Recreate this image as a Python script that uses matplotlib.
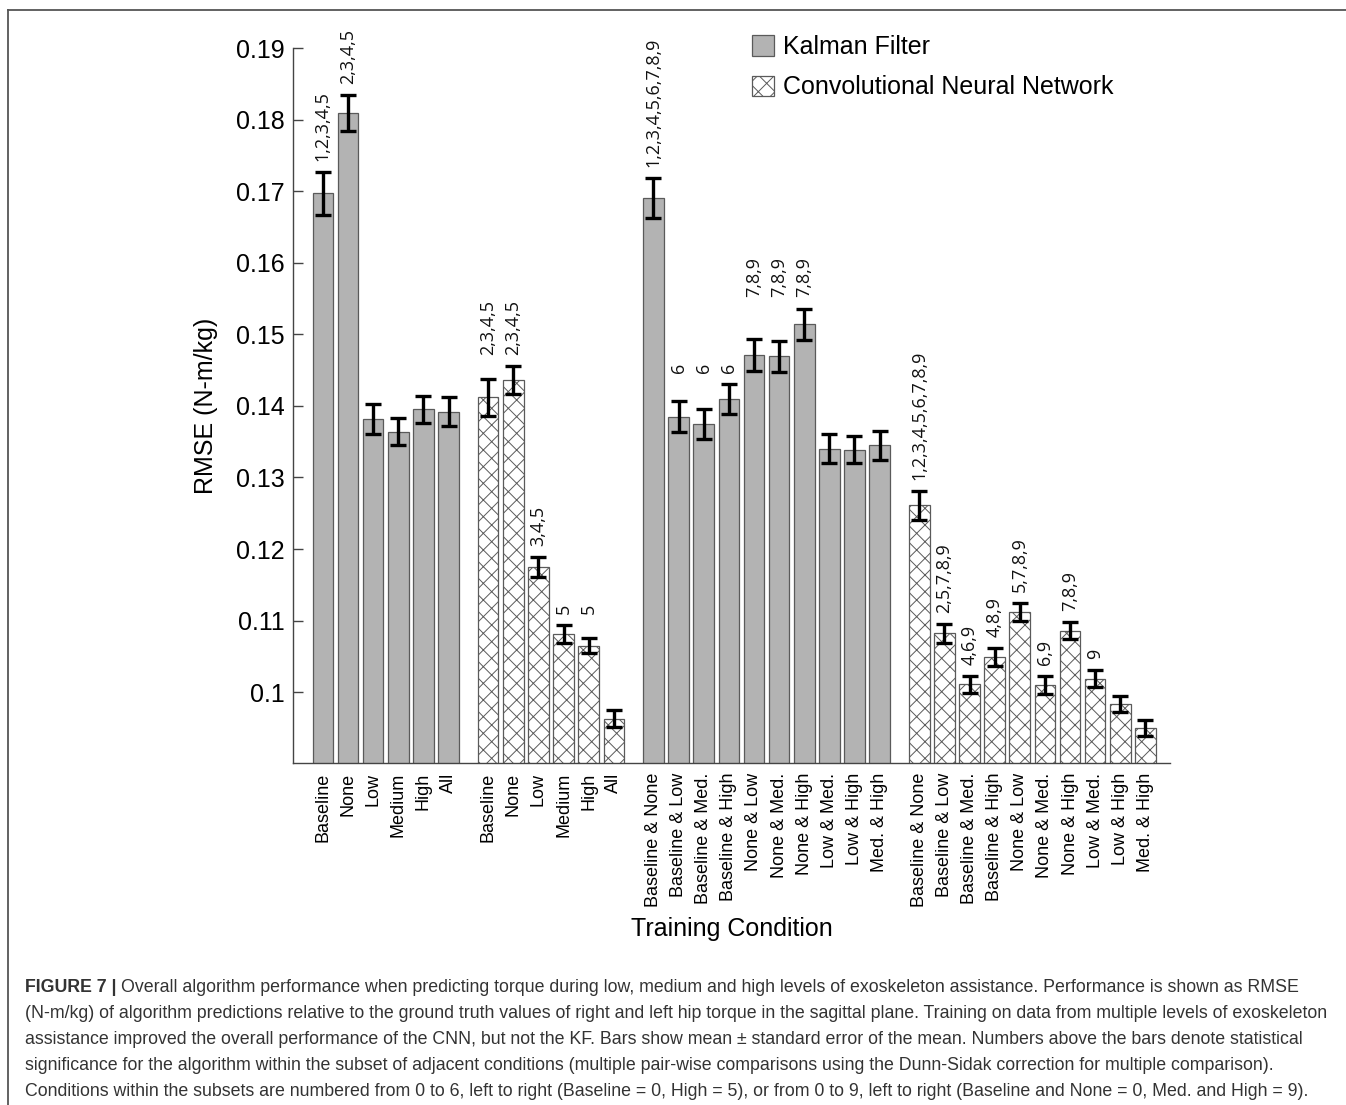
import numpy as np
import matplotlib.pyplot as plt
from matplotlib.patches import Patch
from matplotlib.lines import Line2D

# RMSE (N-m/kg), mean and standard error per training condition
kf_single = ['Baseline', 'None', 'Low', 'Medium', 'High', 'All']
kf_single_mean = [0.1697, 0.1809, 0.1382, 0.1364, 0.1395, 0.1392]
kf_single_se = [0.0030, 0.0025, 0.0021, 0.0019, 0.0019, 0.0020]
kf_single_sig = ['1,2,3,4,5', '2,3,4,5', '', '', '', '']

cnn_single = ['Baseline', 'None', 'Low', 'Medium', 'High', 'All']
cnn_single_mean = [0.1412, 0.1436, 0.1175, 0.1081, 0.1065, 0.0963]
cnn_single_se = [0.0026, 0.0020, 0.0014, 0.0013, 0.0011, 0.0012]
cnn_single_sig = ['2,3,4,5', '2,3,4,5', '3,4,5', '5', '5', '']

pairs = ['Baseline & None', 'Baseline & Low', 'Baseline & Med.', 'Baseline & High',
         'None & Low', 'None & Med.', 'None & High', 'Low & Med.', 'Low & High',
         'Med. & High']
kf_pair_mean = [0.1690, 0.1385, 0.1375, 0.1409, 0.1471, 0.1469, 0.1514,
                0.1340, 0.1339, 0.1345]
kf_pair_se = [0.0028, 0.0022, 0.0021, 0.0021, 0.0022, 0.0022, 0.0022,
              0.0020, 0.0019, 0.0020]
kf_pair_sig = ['1,2,3,4,5,6,7,8,9', '6', '6', '6', '7,8,9', '7,8,9', '7,8,9',
               '', '', '']

cnn_pair_mean = [0.1261, 0.1082, 0.1011, 0.1049, 0.1112, 0.1010, 0.1086,
                 0.1019, 0.0983, 0.0950]
cnn_pair_se = [0.0020, 0.0013, 0.0012, 0.0013, 0.0013, 0.0012, 0.0012,
               0.0012, 0.0011, 0.0011]
cnn_pair_sig = ['1,2,3,4,5,6,7,8,9', '2,5,7,8,9', '4,6,9', '4,8,9', '5,7,8,9',
                '6,9', '7,8,9', '9', '', '']

groups = [
    (kf_single, kf_single_mean, kf_single_se, kf_single_sig, 'kf'),
    (cnn_single, cnn_single_mean, cnn_single_se, cnn_single_sig, 'cnn'),
    (pairs, kf_pair_mean, kf_pair_se, kf_pair_sig, 'kf'),
    (pairs, cnn_pair_mean, cnn_pair_se, cnn_pair_sig, 'cnn'),
]

GRAY = '#b3b3b3'
EDGE = '#5a5a5a'
plt.rcParams['hatch.linewidth'] = 0.7

fig = plt.figure(figsize=(13.46, 11.05), dpi=100)
ax = fig.add_axes([293 / 1346, 1 - 763 / 1105, 877 / 1346, 715 / 1105])

gap = 1.58
start = 0.0
tick_pos, tick_lab = [], []
for labels, mean, se, sig, kind in groups:
    x = start + np.arange(len(labels))
    if kind == 'kf':
        ax.bar(x, mean, width=0.82, color=GRAY, edgecolor=EDGE, linewidth=0.9, zorder=2)
    else:
        ax.bar(x, mean, width=0.82, color='white', edgecolor=EDGE, hatch='xx',
               linewidth=0.9, zorder=2)
    ax.errorbar(x, mean, yerr=se, fmt='none', ecolor='black', elinewidth=2.4,
                capsize=5.5, capthick=2.4, zorder=3)

    # consecutive bars with the same significance text share one height
    tops = np.array(mean) + np.array(se)
    i = 0
    while i < len(sig):
        j = i
        while j + 1 < len(sig) and sig[j + 1] == sig[i]:
            j += 1
        if sig[i]:
            y = tops[i:j + 1].max()
            for k in range(i, j + 1):
                ax.annotate(sig[k], (x[k], y), xytext=(0, 8), textcoords='offset points',
                            rotation=90, ha='center', va='bottom', fontsize=13,
                            family=['Open Sans', 'DejaVu Sans'], color='#111111')
        i = j + 1

    tick_pos += list(x)
    tick_lab += labels
    start = x[-1] + gap

ax.set_xlim(-1.19, 33.72)
ax.set_ylim(0.0901, 0.19)
ax.set_yticks(np.arange(0.10, 0.1901, 0.01))
ax.set_yticklabels(['%g' % round(v, 2) for v in np.arange(0.10, 0.1901, 0.01)])
ax.set_xticks(tick_pos)
ax.set_xticklabels(tick_lab, rotation=90, fontsize=13, family='Liberation Sans')
ax.tick_params(axis='x', length=0, pad=7)
ax.tick_params(axis='y', direction='in', length=7, width=1, color='#444444',
               labelsize=18, pad=6)
for t in ax.get_yticklabels():
    t.set_family('Liberation Sans')

for s in ['top', 'right']:
    ax.spines[s].set_visible(False)
for s in ['left', 'bottom']:
    ax.spines[s].set_color('#444444')
    ax.spines[s].set_linewidth(1.0)

ax.set_ylabel('RMSE (N-m/kg)', fontsize=18, family='Liberation Sans', labelpad=13)
ax.set_xlabel('Training Condition', fontsize=18, family='Liberation Sans', labelpad=7)

handles = [Patch(facecolor=GRAY, edgecolor=EDGE, linewidth=0.9),
           Patch(facecolor='white', edgecolor=EDGE, hatch='xx', linewidth=0.9)]
fig.legend(handles, ['Kalman Filter', 'Convolutional Neural Network'],
           loc='upper left', bbox_to_anchor=(752 / 1346, 1 - 35 / 1105),
           frameon=False, prop={'family': 'Liberation Sans', 'size': 18},
           handlelength=0.88, handleheight=0.88, handletextpad=0.35,
           labelspacing=0.66, borderpad=0, borderaxespad=0)

# figure frame (top and left rules)
fig.add_artist(Line2D([8 / 1346, 1], [1 - 10 / 1105, 1 - 10 / 1105],
                      transform=fig.transFigure, color='#555555', linewidth=1.3))
fig.add_artist(Line2D([8 / 1346, 8 / 1346], [0, 1 - 10 / 1105],
                      transform=fig.transFigure, color='#555555', linewidth=1.3))

caption = [
    'Overall algorithm performance when predicting torque during low, medium and high levels of exoskeleton assistance. Performance is shown as RMSE',
    '(N-m/kg) of algorithm predictions relative to the ground truth values of right and left hip torque in the sagittal plane. Training on data from multiple levels of exoskeleton',
    'assistance improved the overall performance of the CNN, but not the KF. Bars show mean \u00b1 standard error of the mean. Numbers above the bars denote statistical',
    'significance for the algorithm within the subset of adjacent conditions (multiple pair-wise comparisons using the Dunn-Sidak correction for multiple comparison).',
    'Conditions within the subsets are numbered from 0 to 6, left to right (Baseline = 0, High = 5), or from 0 to 9, left to right (Baseline and None = 0, Med. and High = 9).',
]
cap_y = [987, 1013, 1040, 1066, 1092]
cap_font = dict(family='Liberation Sans', size=12.8, color='#333333', va='center')

renderer = fig.canvas.get_renderer()
head = fig.text(25 / 1346, 1 - cap_y[0] / 1105, 'FIGURE 7 | ', weight='bold', **cap_font)
head_w = head.get_window_extent(renderer).width / fig.bbox.width
fig.text(25 / 1346 + head_w, 1 - cap_y[0] / 1105, caption[0], **cap_font)
for line, y in zip(caption[1:], cap_y[1:]):
    fig.text(25 / 1346, 1 - y / 1105, line, **cap_font)

fig.savefig('out.png', dpi=100)
